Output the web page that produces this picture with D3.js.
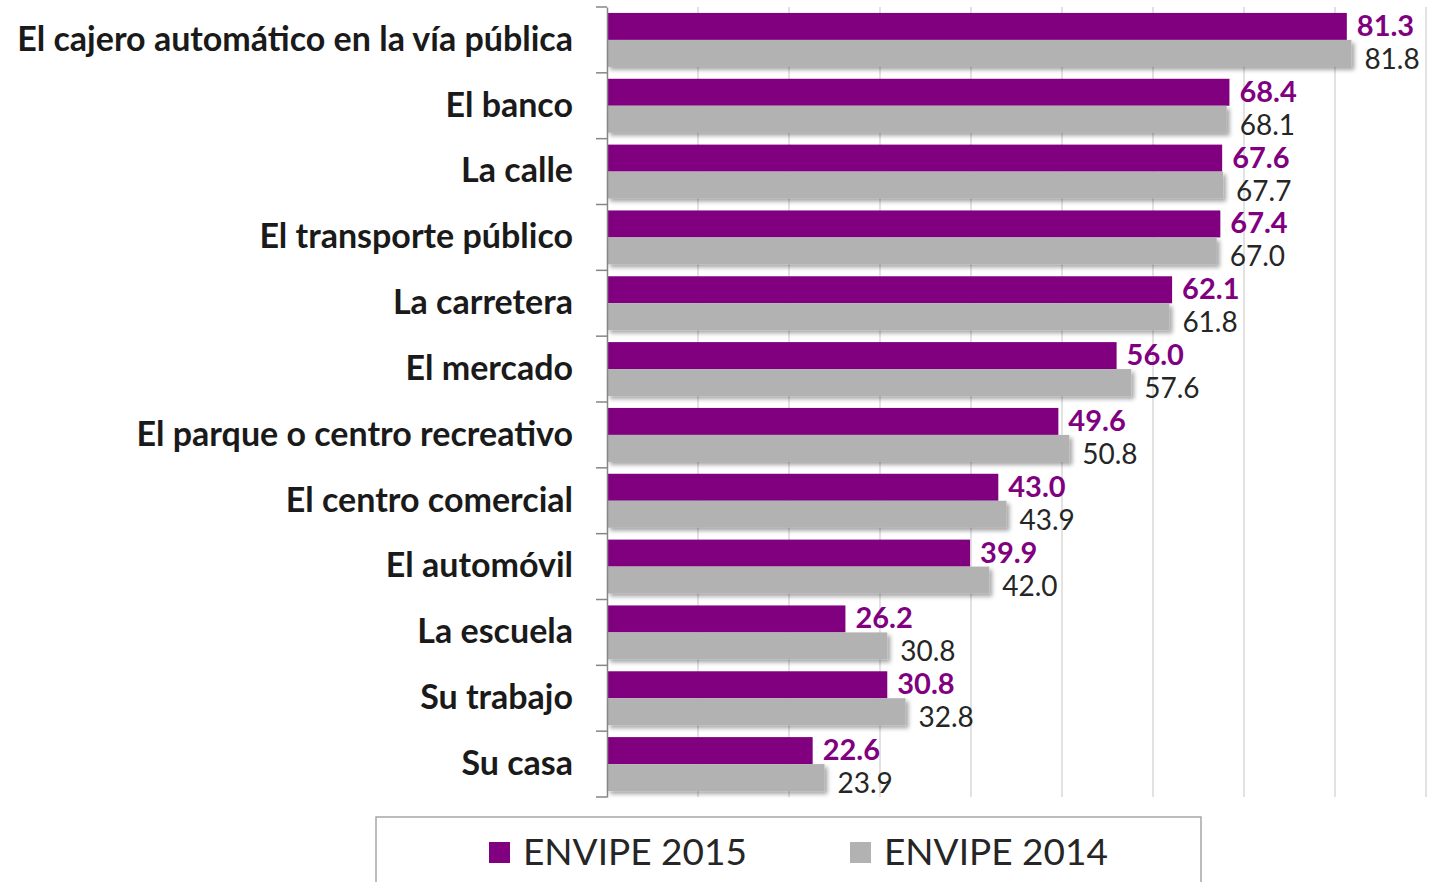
<!DOCTYPE html>
<html>
<head>
<meta charset="utf-8">
<script src="https://cdn.jsdelivr.net/npm/d3@7"></script>
<style>
	body { margin: 0; background: #fff; }
	svg { display: block; font-family: Lato, 'Open Sans', sans-serif; }
</style>
</head>
<body>
<svg width="1430" height="882"></svg>
<script>
const categories = [
	'El cajero automático en la vía pública', 'El banco', 'La calle',
	'El transporte público', 'La carretera', 'El mercado',
	'El parque o centro recreativo', 'El centro comercial', 'El automóvil',
	'La escuela', 'Su trabajo', 'Su casa'
]
const envipe2015 = [81.3, 68.4, 67.6, 67.4, 62.1, 56.0, 49.6, 43.0, 39.9, 26.2, 30.8, 22.6]
const envipe2014 = [81.8, 68.1, 67.7, 67.0, 61.8, 57.6, 50.8, 43.9, 42.0, 30.8, 32.8, 23.9]
const seriesNames = ['ENVIPE 2015', 'ENVIPE 2014']
const gridTicks = [10, 20, 30, 40, 50, 60, 70, 80, 90]

const dim = {
	width: 1430, height: 882,
	margin: { top: 7, right: 4, bottom: 85, left: 607 }
}
const colors = { 'ENVIPE 2015': '#800080', 'ENVIPE 2014': '#b2b2b2' }
const labelColors = { 'ENVIPE 2015': '#800080', 'ENVIPE 2014': '#262626' }

const svg = d3.select('svg')

// soft shadow under the grey bars
const defs = svg.append('defs')
const f = defs.append('filter').attr('id', 'shadow')
	.attr('x', '-5%').attr('y', '-20%').attr('width', '115%').attr('height', '160%')
f.append('feDropShadow')
	.attr('dx', 3).attr('dy', 3).attr('stdDeviation', 2)
	.attr('flood-color', '#000').attr('flood-opacity', 0.35)

let x = d3.scaleLinear()
	.domain([0, 90])
	.range([dim.margin.left, dim.width - dim.margin.right])
let y = d3.scaleBand()
	.domain(categories)
	.range([dim.margin.top, dim.height - dim.margin.bottom])
let inner = d3.scaleBand()
	.domain(seriesNames)
	.range([0, y.bandwidth()])
	.paddingOuter(0.22)

// vertical gridlines
svg.append('g').attr('class', 'grid')
	.selectAll('line').data(gridTicks).join('line')
	.attr('x1', d => x(d)).attr('x2', d => x(d))
	.attr('y1', dim.margin.top).attr('y2', dim.height - dim.margin.bottom)
	.attr('stroke', '#d9d9d9').attr('stroke-width', 1.5)

const rows = categories.map((c, i) => ({ cat: c, vals: [envipe2015[i], envipe2014[i]] }))

const groups = svg.append('g').selectAll('g').data(rows).join('g')
	.attr('transform', d => `translate(0, ${y(d.cat)})`)

groups.selectAll('rect').data(d => d.vals.map((v, j) => ({ s: seriesNames[j], v }))).join('rect')
	.attr('x', x(0))
	.attr('y', d => inner(d.s))
	.attr('width', d => x(d.v) - x(0))
	.attr('height', inner.bandwidth())
	.attr('fill', d => colors[d.s])
	.attr('filter', d => d.s === 'ENVIPE 2014' ? 'url(#shadow)' : null)

groups.selectAll('text').data(d => d.vals.map((v, j) => ({ s: seriesNames[j], v }))).join('text')
	.attr('x', d => x(d.v) + (d.s === 'ENVIPE 2015' ? 10 : 13))
	.attr('y', d => inner(d.s) + inner.bandwidth() + (d.s === 'ENVIPE 2015' ? -4 : 2))
	.attr('fill', d => labelColors[d.s])
	.attr('font-size', d => d.s === 'ENVIPE 2015' ? 29 : 28)
	.attr('font-weight', d => d.s === 'ENVIPE 2015' ? 'bold' : 'normal')
	.text(d => d.v.toFixed(1))

// category axis
const catAxis = d3.axisLeft(y).tickSize(0).tickPadding(34)
const ax = svg.append('g')
	.attr('class', 'category-axis')
	.attr('transform', `translate(${dim.margin.left}, 0)`)
	.call(catAxis)
ax.select('.domain').attr('stroke', '#868686').attr('stroke-width', 1.5)
ax.selectAll('.tick text')
	.attr('font-family', 'Lato, sans-serif')
	.attr('font-size', 34)
	.attr('font-weight', 'bold')
	.attr('fill', '#1a1a1a')

// tick marks between the categories
const bounds = categories.map(c => y(c)).concat([y.range()[1]])
ax.selectAll('.sep').data(bounds).join('line')
	.attr('class', 'sep')
	.attr('x1', -11).attr('x2', 0)
	.attr('y1', d => d).attr('y2', d => d)
	.attr('stroke', '#868686').attr('stroke-width', 1.5)

// legend
const legend = svg.append('g').attr('class', 'legend')
legend.append('rect')
	.attr('x', 376).attr('y', 817).attr('width', 825).attr('height', 80)
	.attr('fill', 'none').attr('stroke', '#a6a6a6').attr('stroke-width', 1.5)
const legendX = [489, 850]
const items = legend.selectAll('g').data(seriesNames).join('g')
	.attr('transform', (d, i) => `translate(${legendX[i]}, 842)`)
items.append('rect')
	.attr('width', 21).attr('height', 21)
	.attr('fill', d => colors[d])
items.append('text')
	.attr('x', 34).attr('y', 23)
	.attr('font-size', 37)
	.attr('fill', '#262626')
	.text(d => d)
</script>
</body>
</html>
